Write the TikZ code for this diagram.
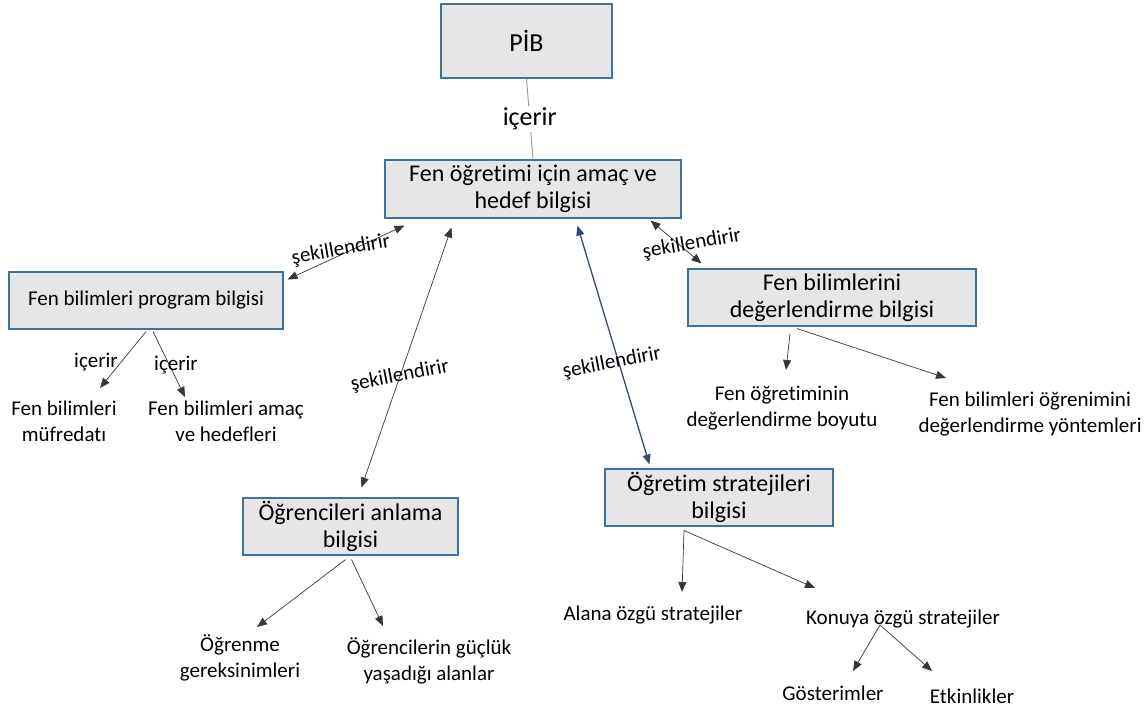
\documentclass[tikz,border=0pt]{standalone}
\usepackage{fontspec}
\setmainfont{Carlito}[Ligatures=NoCommon]
\usetikzlibrary{arrows.meta}
\definecolor{boxfill}{RGB}{231,230,230}
\definecolor{boxline}{RGB}{65,113,156}
\definecolor{linkc}{RGB}{55,55,55}
\definecolor{bluelink}{RGB}{55,75,115}
\tikzset{
  px/.style={x=1pt,y=-1pt},
  conceptbox/.style={draw=boxline,line width=1.1pt,fill=boxfill,inner sep=0pt,
    align=center,text=black},
  bigtext/.style={font=\fontsize{24}{27.5}\selectfont},
  midtext/.style={font=\fontsize{21}{26}\selectfont},
  leaf/.style={align=center,inner sep=0pt,font=\fontsize{21}{26}\selectfont},
  linklabel/.style={inner sep=0pt,font=\fontsize{21}{24}\selectfont},
  link/.style={draw=linkc,line width=0.7pt},
  tip/.style={-{Triangle[length=10pt,width=8pt]}},
  bitip/.style={{Triangle[length=10pt,width=8pt]}-{Triangle[length=10pt,width=8pt]}},
}
\begin{document}
\begin{tikzpicture}[px]
\useasboundingbox (0,0) rectangle (1147,711);

% concept boxes
\node[conceptbox,minimum width=171pt,minimum height=74pt,font=\fontsize{26}{30}\selectfont] (pib) at (526.5,41) {PİB};
\node[conceptbox,bigtext,minimum width=296pt,minimum height=58pt] (goal) at (533,189) {Fen öğretimi için amaç ve\\hedef bilgisi};
\node[conceptbox,midtext,minimum width=274pt,minimum height=57pt] (prog) at (146,300.5) {Fen bilimleri program bilgisi};
\node[conceptbox,bigtext,minimum width=288pt,minimum height=57pt] (eval) at (832,297.5) {Fen bilimlerini\\değerlendirme bilgisi};
\node[conceptbox,bigtext,minimum width=215pt,minimum height=57pt] (stud) at (350.5,526.5) {Öğrencileri anlama\\bilgisi};
\node[conceptbox,bigtext,minimum width=228pt,minimum height=57pt] (strat) at (719,497.5) {Öğretim stratejileri\\bilgisi};

% leaf texts
\node[leaf] (muf) at (64,421) {Fen bilimleri\\müfredatı};
\node[leaf] (aim) at (226,421) {Fen bilimleri amaç\\ve hedefleri};
\node[leaf] (dim) at (782,408) {Fen öğretiminin\\değerlendirme boyutu};
\node[leaf] (meth) at (1030,414) {Fen bilimleri öğrenimini\\değerlendirme yöntemleri};
\node[leaf] (need) at (240,658) {Öğrenme\\gereksinimleri};
\node[leaf] (hard) at (429,661) {Öğrencilerin güçlük\\yaşadığı alanlar};
\node[leaf] (field) at (653,615) {Alana özgü stratejiler};
\node[leaf] (topic) at (903,619) {Konuya özgü stratejiler};
\node[leaf] (show) at (833,693) {Gösterimler};
\node[leaf] (act) at (972,696) {Etkinlikler};

% PİB to the goal box, with its label
\draw[draw=gray!80,line width=0.9pt] (pib.south) -- node[fill=white,inner sep=2pt,font=\fontsize{26}{30}\selectfont] (inc) {içerir} (goal.north);

% two-way links from the goal box
\draw[link,bitip] ([shift={(20,7)}]goal.south west) -- ([shift={(4,8)}]prog.north east);
\draw[link,bitip] ([shift={(67,9)}]goal.south west) -- ([shift={(119,-10)}]stud.north west);
\draw[draw=bluelink,line width=1.3pt,bitip] ([shift={(193,7)}]goal.south west) -- ([shift={(45,-4)}]strat.north west);
\draw[link,bitip] ([shift={(-31,2)}]goal.south east) -- ([shift={(14,-5)}]eval.north west);

\node[linklabel,rotate=10] (s1) at (341,250) {şekillendirir};
\node[linklabel,rotate=11] (s2) at (400,376) {şekillendirir};
\node[linklabel,rotate=11] (s3) at (612,363) {şekillendirir};
\node[linklabel,rotate=10] (s4) at (692,244) {şekillendirir};

% program knowledge
\draw[link,tip] ([shift={(0,2)}]prog.south) -- ([shift={(36,-33)}]muf.center);
\draw[link,tip] ([shift={(7,2)}]prog.south) -- ([shift={(-41,-24)}]aim.center);
\node[linklabel] (i1) at (96,362) {içerir};
\node[linklabel] (i2) at (176,365) {içerir};

% assessment knowledge
\draw[link,tip] ([shift={(-42,7)}]eval.south) -- ([shift={(4,-38)}]dim.center);
\draw[link,tip] ([shift={(-35,2)}]eval.south) -- ([shift={(-84,-36)}]meth.center);

% understanding students
\draw[link,tip] ([shift={(-5,4)}]stud.south) -- ([shift={(17,-31)}]need.center);
\draw[link,tip] ([shift={(1,4)}]stud.south) -- ([shift={(-46,-35)}]hard.center);

% instructional strategies
\draw[link,tip] ([shift={(-35,4)}]strat.south) -- ([shift={(29,-23)}]field.center);
\draw[link,tip] ([shift={(-35,4)}]strat.south) -- ([shift={(-88,-31)}]topic.center);
\draw[link,tip] ([shift={(-23,6)}]topic.center) -- ([shift={(20,-22)}]show.center);
\draw[link,tip] ([shift={(-23,6)}]topic.center) -- ([shift={(-40,-25)}]act.center);
\end{tikzpicture}
\end{document}
